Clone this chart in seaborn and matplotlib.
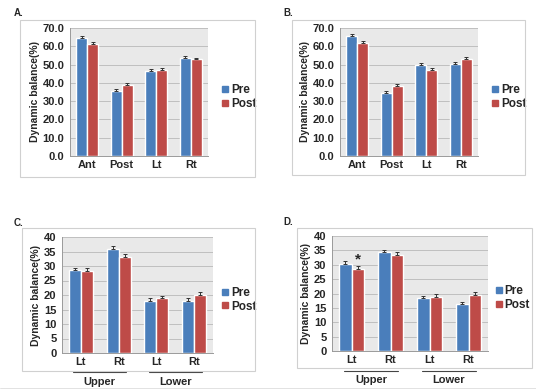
import numpy as np
import pandas as pd
import seaborn as sns
import matplotlib.pyplot as plt
from matplotlib.patches import Rectangle
from matplotlib.lines import Line2D

# data
groups = ['Pre', 'Post']
cats_ab = ['Ant', 'Post', 'Lt', 'Rt']
cats_cd = ['Lt', 'Rt', 'Lt ', 'Rt ']

a_pre = [64.5, 35.6, 46.5, 53.8]
a_post = [61.2, 38.7, 47.3, 52.8]
a_pre_err = [1.0, 1.0, 1.0, 1.0]
a_post_err = [1.0, 1.0, 1.0, 1.0]

b_pre = [65.5, 34.5, 49.7, 50.5]
b_post = [61.7, 38.2, 47.2, 53.0]
b_pre_err = [1.0, 1.0, 0.9, 0.9]
b_post_err = [1.0, 1.0, 0.9, 1.0]

c_pre = [28.5, 36.0, 17.8, 17.8]
c_post = [28.2, 33.0, 18.8, 20.0]
c_pre_err = [0.9, 0.9, 1.0, 1.0]
c_post_err = [1.0, 1.0, 1.0, 1.0]

d_pre = [30.2, 34.3, 18.3, 16.2]
d_post = [28.5, 33.4, 18.7, 19.6]
d_pre_err = [1.0, 0.9, 1.0, 1.0]
d_post_err = [1.0, 1.0, 1.0, 0.9]

region_labels = ['Upper', 'Lower']

PRE_COL = '#4A7EBB'
POST_COL = '#BE4B48'

sns.set_theme(style='white')
plt.rcParams['font.family'] = ['Liberation Sans', 'DejaVu Sans']
plt.rcParams['font.weight'] = 'bold'

fig = plt.figure(figsize=(5.36, 3.91), dpi=100)
W, H = 536.0, 391.0


def px_axes(left, top, right, bottom):
    return fig.add_axes([left / W, 1 - bottom / H, (right - left) / W, (bottom - top) / H])


def px_box(left, top, right, bottom):
    fig.patches.append(Rectangle((left / W, 1 - bottom / H), (right - left) / W,
                                 (bottom - top) / H, transform=fig.transFigure,
                                 fill=False, edgecolor='#D0D0D0', lw=0.8, zorder=0))


def panel(ax, cats, pre, post, pre_err, post_err, ymax, step, fmt, leg_x):
    df = pd.DataFrame({
        'cat': cats * 2,
        'group': ['Pre'] * len(cats) + ['Post'] * len(cats),
        'val': pre + post,
    })
    ax.set_facecolor('#E9E9E9')
    sns.barplot(data=df, x='cat', y='val', hue='group', hue_order=groups,
                palette=[PRE_COL, POST_COL], width=0.64, errorbar=None,
                saturation=1, ax=ax, zorder=3)
    for cont, err in zip(ax.containers, [pre_err, post_err]):
        xs = [p.get_x() + p.get_width() / 2 for p in cont.patches]
        ys = [p.get_height() for p in cont.patches]
        ax.errorbar(xs, ys, yerr=[np.zeros(len(err)), err], fmt='none',
                    ecolor='#333333', elinewidth=0.7, capsize=1.2, capthick=0.7, zorder=4)
    ax.set_ylim(0, ymax)
    ax.set_xlim(-0.5, len(cats) - 0.5)
    ticks = np.arange(0, ymax + step / 2, step)
    ax.set_yticks(ticks)
    ax.set_yticklabels([fmt % t for t in ticks], fontsize=8, fontweight='bold')
    ax.set_xticks(range(len(cats)))
    ax.set_xticklabels([c.strip() for c in cats], fontsize=8, fontweight='bold')
    ax.yaxis.grid(True, color='#B8B8B8', lw=0.6, zorder=0)
    ax.set_axisbelow(True)
    for s in ['top', 'right']:
        ax.spines[s].set_visible(False)
    for s in ['left', 'bottom']:
        ax.spines[s].set_color('#9A9A9A')
        ax.spines[s].set_linewidth(0.7)
    ax.tick_params(axis='y', length=2, color='#9A9A9A', pad=2)
    ax.tick_params(axis='x', length=0, pad=3)
    ax.set_xlabel('')
    ax.set_ylabel('Dynamic balance(%)', fontsize=7.5, fontweight='bold', labelpad=2)
    handles = [Line2D([], [], marker='s', ls='none', color=PRE_COL, markersize=4.5),
               Line2D([], [], marker='s', ls='none', color=POST_COL, markersize=4.5)]
    ax.legend(handles, groups, loc='center left', bbox_to_anchor=(leg_x, 0.46),
              frameon=False, handlelength=0.6, handletextpad=0.2, labelspacing=0.15,
              borderaxespad=0, borderpad=0.2,
              prop={'weight': 'bold', 'size': 8.5})


def regions(ax, y_line, y_text):
    trans = ax.get_xaxis_transform()
    for (x0, x1), name in zip([(-0.2, 1.2), (1.8, 3.2)], region_labels):
        ax.add_line(Line2D([x0, x1], [y_line, y_line], transform=trans,
                           color='#444444', lw=0.8, clip_on=False))
        ax.text((x0 + x1) / 2, y_text, name, transform=trans, ha='center', va='center',
                fontsize=8, fontweight='bold')


# panel frames
px_box(20, 20, 255, 177)
px_box(292, 20, 525, 175)
px_box(22, 228, 255, 371)
px_box(297, 228, 532, 368)

axA = px_axes(70, 28, 208, 156)
panel(axA, cats_ab, a_pre, a_post, a_pre_err, a_post_err, 70, 10, '%.1f', 1.08)
axB = px_axes(340, 28, 478, 156)
panel(axB, cats_ab, b_pre, b_post, b_pre_err, b_post_err, 70, 10, '%.1f', 1.08)
axC = px_axes(62, 237, 213, 353)
panel(axC, cats_cd, c_pre, c_post, c_pre_err, c_post_err, 40, 5, '%d', 1.04)
regions(axC, -0.165, -0.25)
axD = px_axes(332, 236, 488, 351)
panel(axD, cats_cd, d_pre, d_post, d_pre_err, d_post_err, 40, 5, '%d', 1.03)
regions(axD, -0.17, -0.25)

# significance mark on D, upper Lt post
star_bar = axD.containers[1].patches[0]
axD.text(star_bar.get_x() + star_bar.get_width() / 2, d_post[0] + 3.2, '*',
         ha='center', va='center', fontsize=11, fontweight='bold')

for lab, x, y in [('A.', 14, 13), ('B.', 283, 13), ('C.', 14, 223), ('D.', 283, 222)]:
    fig.text(x / W, 1 - y / H, lab, fontsize=7, fontweight='bold', ha='left', va='center')

fig.add_artist(Line2D([0, 1], [1 - 388 / H, 1 - 388 / H], transform=fig.transFigure,
                      color='#DDDDDD', lw=0.6))

fig.savefig('out.png', dpi=100)
